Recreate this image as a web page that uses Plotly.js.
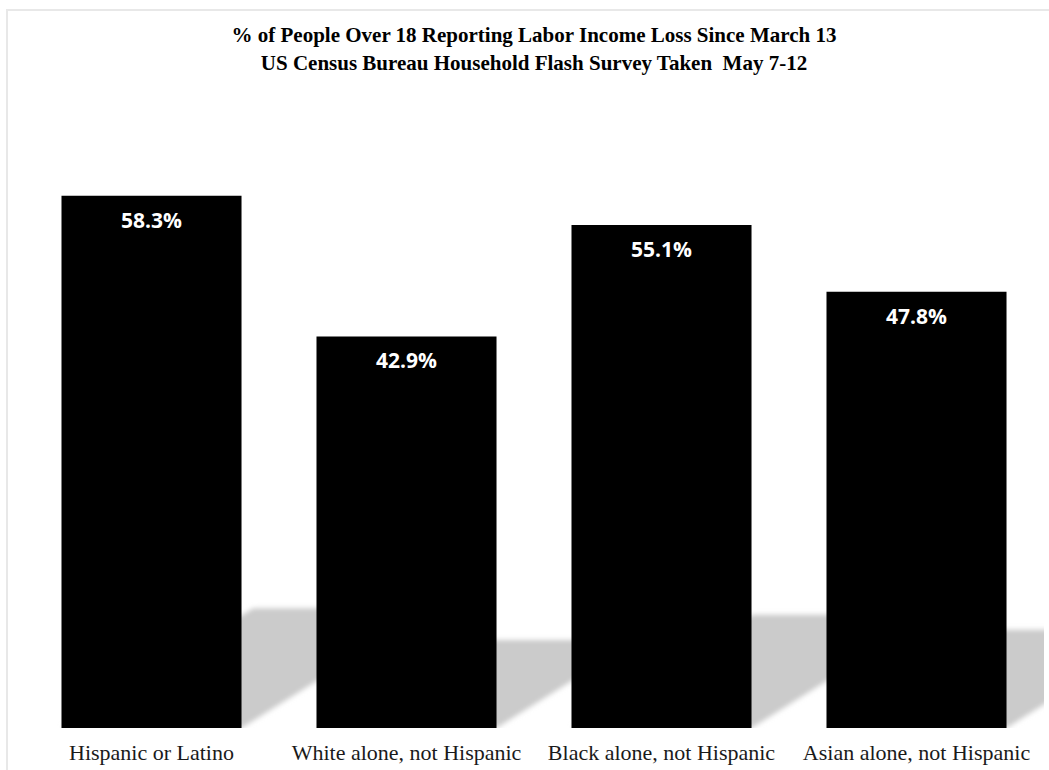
<!DOCTYPE html>
<html>
<head>
<meta charset="utf-8">
<script src="https://cdn.plot.ly/plotly-3.0.1.min.js"></script>
<style>
  html, body { margin: 0; padding: 0; background: #ffffff; overflow: hidden; }
  #chart { width: 1049px; height: 770px; position: relative; }
  #frame { position: absolute; left: 6px; top: 9px; width: 1100px; height: 800px;
           border-top: 2px solid #e8e8e8; border-left: 2px solid #e8e8e8; pointer-events: none; }
  .shapelayer path { filter: url(#shadowBlur); }
</style>
</head>
<body>
<svg width="1" height="1" style="position:absolute; left:0; top:0">
  <defs>
    <filter id="shadowBlur" x="-20%" y="-20%" width="140%" height="140%">
      <feGaussianBlur stdDeviation="2.5"/>
    </filter>
  </defs>
</svg>
<div id="chart"></div>
<div id="frame"></div>
<script>
// ---- data ----
const categories = ["Hispanic or Latino", "White alone, not Hispanic", "Black alone, not Hispanic", "Asian alone, not Hispanic"];
const values = [58.3, 42.9, 55.1, 47.8];
const valueLabels = ["58.3%", "42.9%", "55.1%", "47.8%"];
const titleLines = ["% of People Over 18 Reporting Labor Income Loss Since March 13", "US Census Bureau Household Flash Survey Taken  May 7-12"];

// ---- layout constants ----
const W = 1049, H = 770;
const margin = {l: 24, r: 5, t: 89, b: 42};
const yMax = 70;
const bargap = 0.294;
const plotW = W - margin.l - margin.r;
const plotH = H - margin.t - margin.b;
const pxPerX = plotW / categories.length;
const pxPerY = plotH / yMax;
const halfW = (1 - bargap) / 2;
const shadowRatio = 0.225;   // shadow height relative to bar height
const shadowSlant = 1.6;     // horizontal shift per unit of shadow height (px/px)

const shapes = values.map((v, i) => {
  const hy = shadowRatio * v;
  const sx = shadowSlant * hy * pxPerY / pxPerX;
  const x0 = i - halfW, x1 = i + halfW;
  return {
    type: 'path', xref: 'x', yref: 'y', layer: 'below',
    path: `M ${x0} 0 L ${x1} 0 L ${x1 + sx} ${hy} L ${x0 + sx} ${hy} Z`,
    fillcolor: '#cbcbcb', line: {width: 0}
  };
});

const annotations = values.map((v, i) => ({
  x: categories[i], y: v, xref: 'x', yref: 'y',
  text: valueLabels[i], showarrow: false,
  yanchor: 'top', yshift: -8,
  font: {family: 'Open Sans', size: 21, color: '#ffffff', weight: 'bold'}
}));

const trace = {
  type: 'bar', x: categories, y: values,
  marker: {color: '#000000', line: {width: 0}},
  hoverinfo: 'none'
};

const layout = {
  width: W, height: H,
  margin: margin,
  paper_bgcolor: '#ffffff', plot_bgcolor: 'rgba(0,0,0,0)',
  bargap: bargap,
  showlegend: false,
  title: {
    text: titleLines.join('<br>'),
    font: {family: 'Liberation Serif', size: 21, color: '#000000', weight: 'bold'},
    x: 0.5, xanchor: 'center', xref: 'paper',
    y: 0.945, yanchor: 'top', yref: 'container'
  },
  xaxis: {
    type: 'category', range: [-0.5, 3.5],
    showgrid: false, zeroline: false, showline: false, ticks: '',
    tickfont: {family: 'Liberation Serif', size: 22, color: '#1a1a1a'},
    ticklabelstandoff: 9, fixedrange: true
  },
  yaxis: {
    range: [0, yMax], visible: false, showgrid: false, zeroline: false, fixedrange: true
  },
  shapes: shapes,
  annotations: annotations
};

Plotly.newPlot('chart', [trace], layout, {displayModeBar: false, staticPlot: true});
</script>
</body>
</html>
